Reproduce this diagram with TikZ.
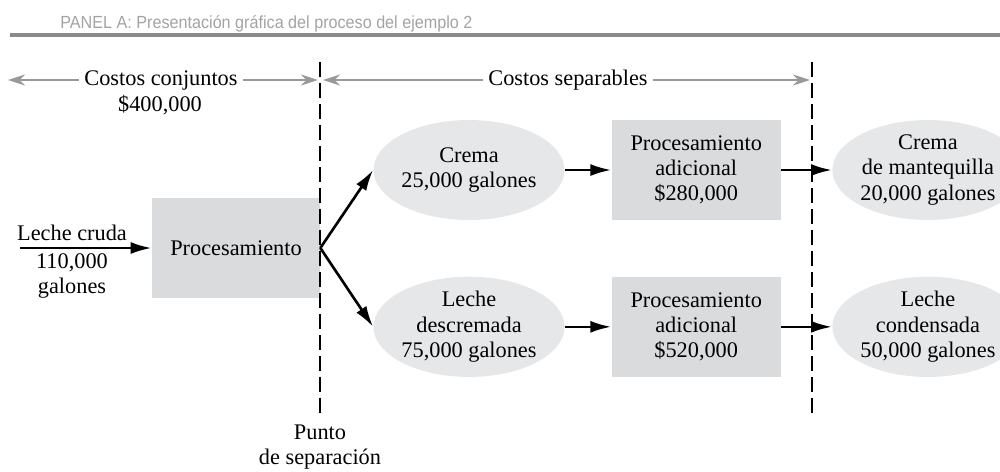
\documentclass[tikz,border=0pt]{standalone}
\usepackage{fontspec}
\setmainfont{Liberation Serif}
\newfontfamily\panelfont[FakeStretch=0.92]{Liberation Sans}
\usetikzlibrary{arrows.meta, positioning, shapes.geometric, calc}
\definecolor{procgray}{HTML}{DADBDC}
\definecolor{prodgray}{HTML}{E6E7E8}
\definecolor{costgray}{HTML}{999999}
\definecolor{rulegray}{HTML}{8A8A8A}
\definecolor{panelgray}{HTML}{A3A3A3}

\begin{document}
\begin{tikzpicture}[x=0.02cm, y=-0.02cm,
  font=\fontsize{12.7}{14.4}\selectfont,
  procbox/.style={rectangle, fill=procgray, minimum width=3.38cm, minimum height=2cm,
                  align=center, inner sep=0pt},
  product/.style={ellipse, fill=prodgray, minimum width=3.7cm, minimum height=2cm,
                  align=center, inner sep=0pt},
  costlabel/.style={inner sep=3pt},
  flow/.style={-{Latex[length=4.2mm, width=2.4mm]}, line width=1.5pt},
  cost/.style={-{Stealth[length=3.4mm, width=2.2mm]}, line width=1.2pt, costgray},
  splitline/.style={line width=1.5pt, dash pattern=on 0.3cm off 0.12cm}]
  \useasboundingbox (0,0) rectangle (1000,471);

  % header
  \node[anchor=base west, inner sep=0pt, text=panelgray,
        font=\panelfont\fontsize{10}{12}\selectfont] (panel) at (60,28)
       {PANEL A: Presentación gráfica del proceso del ejemplo 2};
  \draw[rulegray, line width=2pt] (10,35) -- (1000,35);

  % process nodes
  \node[procbox, minimum width=3.36cm] (proc) at (236,248) {Procesamiento};
  \node[product] (crema) at (469,170) {Crema\\25,000 galones};
  \node[product, below=1.12cm of crema] (desc) {Leche\\descremada\\75,000 galones};
  \node[procbox, right=0.93cm of crema] (adic1) {Procesamiento\\adicional\\\$280,000};
  \node[procbox, right=0.93cm of desc] (adic2) {Procesamiento\\adicional\\\$520,000};
  \node[product, right=1.02cm of adic1] (mant) {Crema\\de mantequilla\\20,000 galones};
  \node[product, right=1.02cm of adic2] (cond) {Leche\\condensada\\50,000 galones};

  % raw milk input
  \coordinate (lcin) at (20,248);
  \node (lc) at (72,233) {Leche cruda};
  \node[align=center] (lcq) at (72,276) {110,000\\galones};

  % cost ranges
  \node[costlabel] (cc) at (161,80) {Costos conjuntos};
  \node (ccamt) at (160,105) {\$400,000};
  \node[costlabel] (cs) at (568,80) {Costos separables};
  \coordinate (ccL) at (8,80);
  \coordinate (ccR) at (318,80);
  \coordinate (csL) at (323,80);
  \coordinate (csR) at (810,80);

  % split-off and end lines
  \coordinate (splitTop) at (320,62);
  \coordinate (splitBot) at (320,417);
  \coordinate (endTop) at (812,62);
  \coordinate (endBot) at (812,417);
  \draw[splitline] (splitTop) -- (splitBot);
  \draw[splitline] (endTop) -- (endBot);
  \node[align=center] (punto) at (320,447) {Punto\\de separación};

  \draw[cost] (cc) -- (ccL);
  \draw[cost] (cc) -- (ccR);
  \draw[cost] (cs) -- (csL);
  \draw[cost] (cs) -- (csR);

  \draw[flow] (lcin) -- (proc);
  \draw[flow] (proc.east) -- (crema.west);
  \draw[flow] (proc.east) -- (desc.west);
  \draw[flow] (crema) -- (adic1);
  \draw[flow] (desc) -- (adic2);
  \draw[flow] (adic1) -- (mant);
  \draw[flow] (adic2) -- (cond);
\end{tikzpicture}
\end{document}
